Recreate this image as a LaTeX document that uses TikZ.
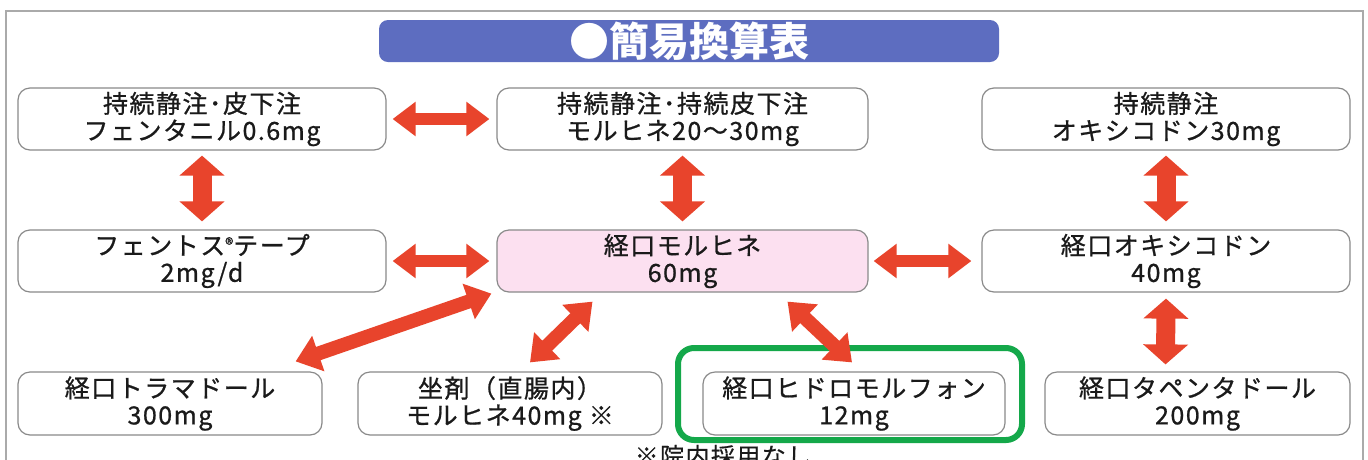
\documentclass[tikz,border=0pt]{standalone}
\usepackage{fontspec}
\setmainfont{Noto Sans CJK JP}
\newfontfamily\boxfont{Noto Sans CJK JP}[FakeBold=0.8, LetterSpace=6]
\newfontfamily\notefont{Noto Sans CJK JP}[FakeBold=0.5, LetterSpace=6]
\usetikzlibrary{arrows.meta,calc}
\definecolor{arrred}{HTML}{E8442C}
\definecolor{titleblue}{HTML}{5D6DC0}
\definecolor{boxgray}{HTML}{8A8A8A}
\definecolor{pinkfill}{HTML}{FCE0F0}
\definecolor{framegray}{HTML}{AAAAAA}
\definecolor{grn}{HTML}{14A84A}
\definecolor{txt}{HTML}{1A1A1A}
\tikzset{
  box/.style={draw=boxgray, line width=1.2pt, rounded corners=12pt, fill=white,
    align=center, text=txt, inner sep=0pt,
    font=\boxfont\fontsize{25}{27}\selectfont},
  wide/.style={minimum width=368pt, minimum height=62pt},
  narrow/.style={minimum width=304pt, minimum height=63pt},
  harr/.style={arrred, line width=12pt,
    {Triangle[length=23pt,width=33pt]}-{Triangle[length=23pt,width=33pt]}},
  varr/.style={arrred, line width=19pt,
    {Triangle[length=20pt,width=44pt]}-{Triangle[length=20pt,width=44pt]}},
  darr/.style={arrred, line width=14pt,
    {Triangle[length=24pt,width=36pt]}-{Triangle[length=24pt,width=36pt]}},
}
\begin{document}
\begin{tikzpicture}[x=1pt,y=-1pt]
\clip (0,0) rectangle (1368,459);
\fill[white] (0,0) rectangle (1368,459);
% outer frame
\draw[framegray, line width=1.2pt] (6,480) -- (6,11) -- (1363,11) -- (1363,480);
% title
\node[fill=titleblue, rounded corners=9pt, minimum width=620pt, minimum height=42pt,
  inner sep=0pt, text=white, font=\fontsize{40}{40}\selectfont\bfseries] (title) at (689,41) {●簡易換算表};
% row 1
\node[box,wide] (A) at (202,119) {持続静注･皮下注\\フェンタニル0.6mg};
\node[box,wide,minimum width=371pt] (B) at (682.5,119) {持続静注･持続皮下注\\モルヒネ20～30mg};
\node[box,wide] (C) at (1166,119) {持続静注\\オキシコドン30mg};
% row 2
\node[box,wide] (D) at (202,261) {フェントス{\fontsize{17}{17}\selectfont\raisebox{4pt}{®}}テープ\\2mg/d};
\node[box,wide,minimum width=371pt,fill=pinkfill] (E) at (682.5,261) {経口モルヒネ\\60mg};
\node[box,wide] (F) at (1166,261) {経口オキシコドン\\40mg};
% row 3
\node[box,narrow] (G) at (170,403.5) {経口トラマドール\\300mg};
\node[box,narrow] (H) at (510,403.5) {坐剤（直腸内）\\モルヒネ40mg ※};
\node[box,narrow,minimum width=302pt] (I) at (854,403.5) {経口ヒドロモルフォン\\12mg};
\node[box,narrow,minimum width=305pt] (J) at (1197.5,403.5) {経口タペンタドール\\200mg};
% green highlight
\node[draw=grn, line width=6pt, rounded corners=16pt, minimum width=344pt, minimum height=92pt, inner sep=0pt] (hl) at (850,394) {};
% footnote
\node[text=txt, font=\notefont\fontsize{24}{24}\selectfont, inner sep=0pt] (note) at (723,456) {※院内採用なし};
% arrows
\draw[harr] ($(A.east)+(6,0)$) -- ($(B.west)+(-7,0)$);
\draw[harr] ($(D.east)+(6,0)$) -- ($(E.west)+(-7,0)$);
\draw[harr] ($(E.east)+(5,0)$) -- ($(F.west)+(-10,0)$);
\draw[varr] ($(A.south)+(0,5)$) -- ($(D.north)+(0,-8)$);
\draw[varr] ($(B.south)+(0,5)$) -- ($(E.north)+(0,-8)$);
\draw[varr] ($(C.south)+(0,5)$) -- ($(F.north)+(0,-8)$);
\draw[varr] ($(F.south)+(0,6)$) -- ($(J.north)+(-32,-7)$);
\draw[darr] ($(E.south west)+(-5,1)$) -- ($(G.north east)+(-27,-10)$);
\draw[darr] ($(E.south)+(-90,9)$) -- ($(H.north)+(20,-9)$);
\draw[darr] ($(E.south)+(105,9)$) -- ($(I.north)+(-2,-9)$);
\end{tikzpicture}
\end{document}
